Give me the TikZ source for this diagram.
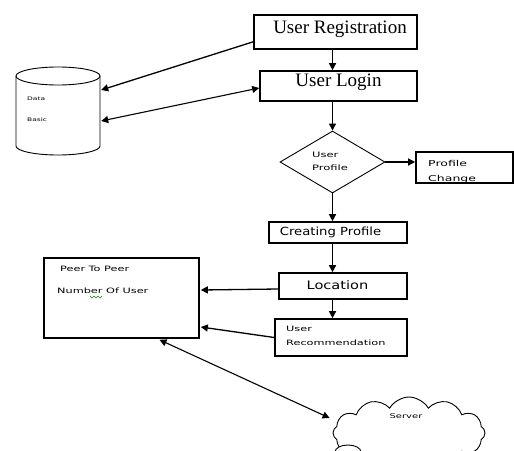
\documentclass[tikz,border=0pt]{standalone}
\usepackage{fontspec}
\usepackage{graphicx}
\setmainfont{Liberation Serif}
\newfontfamily\dv{DejaVu Sans}
\usetikzlibrary{shapes.geometric,shapes.symbols,arrows.meta,calc}
\newcommand\squash[1]{\scalebox{1}[0.65]{#1}}
\begin{document}
\begin{tikzpicture}[x=1pt,y=-1pt,
  box/.style={draw, line width=1.6pt, inner sep=0pt},
  arr/.style={line width=1.3pt, -{Triangle[length=7pt,width=7pt]}},
  darr/.style={line width=1.1pt, {Triangle[length=7pt,width=7pt]}-{Triangle[length=7pt,width=7pt]}},
  serif/.style={font=\fontsize{19}{20}\selectfont},
  smalltxt/.style={anchor=west, inner sep=0pt, font=\dv\fontsize{11.3}{12}\selectfont},
  midtxt/.style={inner sep=0pt, font=\dv\fontsize{13.3}{14}\selectfont}
]
\useasboundingbox (0,0) rectangle (514,450);
\clip (0,0) rectangle (514,450);
\fill[white] (0,0) rectangle (514,450);

% boxes
\node[box, minimum width=163, minimum height=34] (ur) at (335.5,32) {};
\node[serif] (urt) at (340,29) {User Registration};
\node[box, minimum width=157, minimum height=30] (ul) at (338.5,86) {};
\node[serif] (ult) at (338.5,82) {User Login};

% cylinder
\node[inner sep=0pt, minimum width=84, minimum height=88] (db) at (58,111) {};
\draw[line width=0.9pt] (58,76) ellipse[x radius=42, y radius=9];
\draw[line width=0.9pt] (16,76) -- (16,146) arc[start angle=180, end angle=0, x radius=42, y radius=9] -- (100,76);
\node[anchor=west, inner sep=0pt, font=\dv\fontsize{7.5}{8}\selectfont] (dbt1) at (27,99) {\squash{Data}};
\node[anchor=west, inner sep=0pt, font=\dv\fontsize{7.5}{8}\selectfont] (dbt2) at (27,120) {\squash{Basic}};

% diamond
\node[diamond, draw, line width=0.9pt, aspect=1.69, minimum width=105, minimum height=62, inner sep=0pt] (dia) at (332.5,162) {};
\node[smalltxt, font=\dv\fontsize{11.5}{12}\selectfont] (diat1) at (312,155) {\squash{User}};
\node[smalltxt, font=\dv\fontsize{11.5}{12}\selectfont] (diat2) at (312,168) {\squash{Profile}};

% profile change
\node[box, minimum width=97, minimum height=31] (pc) at (464.5,167.5) {};
\node[smalltxt, font=\dv\fontsize{12.5}{13}\selectfont] (pct1) at (428,163) {\squash{Profile}};
\begin{scope}
\clip (416,152) rectangle (513,182.5);
\node[smalltxt, font=\dv\fontsize{12.5}{13}\selectfont] (pct2) at (428,179) {\squash{Change}};
\end{scope}

% creating profile, location, recommendation
\node[box, minimum width=138, minimum height=21] (cp) at (338,232.5) {};
\node[midtxt, font=\dv\fontsize{13.2}{14}\selectfont] (cpt) at (330.5,232) {\scalebox{1}[0.85]{Creating Profile}};
\node[box, minimum width=128, minimum height=26] (loc) at (343,286) {};
\node[midtxt, font=\dv\fontsize{14.6}{15}\selectfont] (loct) at (337.5,285) {\scalebox{1}[0.8]{Location}};
\node[box, minimum width=132, minimum height=37] (urec) at (341,337.5) {};
\node[smalltxt] (urect1) at (286,329) {\squash{User}};
\node[smalltxt] (urect2) at (286,343) {\squash{Recommendation}};

% peer to peer
\node[box, minimum width=155, minimum height=80] (p2p) at (121.5,298) {};
\node[smalltxt] (p2pt1) at (60,269) {\squash{Peer To Peer}};
\node[smalltxt] (p2pt2) at (57,291) {\squash{Number Of User}};
\draw[green!60!black, line width=0.6pt] (90,296) -- (92,298) -- (94,296) -- (96,298) -- (98,296) -- (100,298) -- (102,296);

% cloud
\node[cloud, draw, line width=0.9pt, cloud puffs=12, cloud puff arc=120, aspect=2.3, minimum width=152, minimum height=72, inner sep=0pt] (srv) at (409,433) {};
\node[inner sep=0pt, font=\dv\fontsize{10}{11}\selectfont] (srvt) at (406,416) {\squash{Server}};
\draw[line width=0.9pt, fill=white] (348,452) ellipse[x radius=13, y radius=7];

% connectors
\coordinate (dbin) at ($(db.east)+(1,-21)$);
\coordinate (dbout) at ($(db.east)+(1,10)$);
\draw[arr] ($(ur.south west)+(0,-8)$) -- (dbin);
\draw[darr] (dbout) -- ($(ul.west)+(0,2)$);
\draw[arr] (ur.south -| dia) -- (ul.north -| dia);
\draw[arr] (ul.south -| dia) -- (dia.north);
\draw[arr] (dia.east) -- (pc.west |- dia.east);
\draw[arr] (dia.south) -- (cp.north -| dia);
\draw[arr] (cp.south -| dia) -- (loc.north -| dia);
\draw[arr] ($(loc.south)+(-10.5,0)$) -- ($(urec.north)+(-8.5,0)$);
\draw[arr] ($(loc.west)+(0,3)$) -- ($(p2p.east)+(1,-8)$);
\draw[arr] ($(urec.west)+(0,0)$) -- ($(p2p.east)+(1,29)$);
\draw[darr] ($(p2p.south)+(38,1)$) -- ($(srv.west)+(-3,-15)$);
\end{tikzpicture}
\end{document}
